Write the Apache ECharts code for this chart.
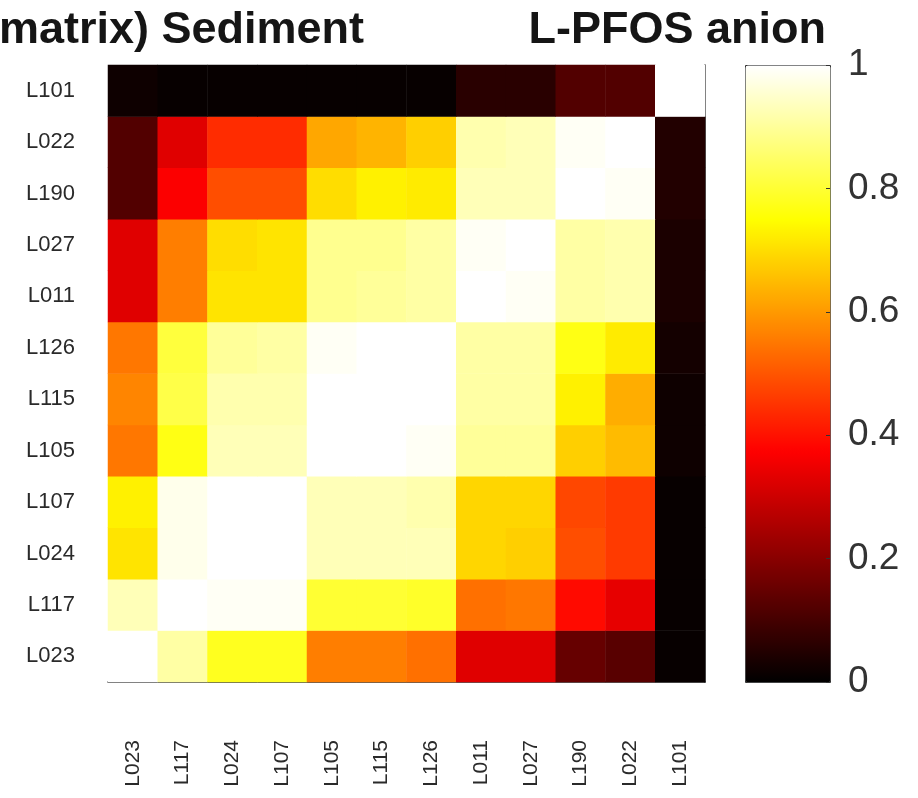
<!DOCTYPE html>
<html>
<head>
<meta charset="utf-8">
<script src="https://cdn.jsdelivr.net/npm/echarts@6/dist/echarts.min.js"></script>
<style>
html,body{margin:0;padding:0;background:#fff;}
#chart{width:918px;height:798px;}
</style>
</head>
<body>
<div id="chart"></div>
<script>
// Categories (x: left to right, y: bottom to top)
const categories = ['L023','L117','L024','L107','L105','L115','L126','L011','L027','L190','L022','L101'];

// Row values (one array per row label), in the order of `categories` columns
const rowL101 = [0.02, 0.01, 0.01, 0.01, 0.01, 0.01, 0.01, 0.06, 0.06, 0.12, 0.12, 1.00];
const rowL022 = [0.12, 0.33, 0.44, 0.44, 0.62, 0.64, 0.68, 0.92, 0.93, 0.99, 1.00, 0.05];
const rowL190 = [0.12, 0.37, 0.49, 0.49, 0.70, 0.73, 0.72, 0.93, 0.93, 1.00, 0.99, 0.05];
const rowL027 = [0.33, 0.56, 0.70, 0.71, 0.89, 0.89, 0.91, 0.99, 1.00, 0.91, 0.92, 0.04];
const rowL011 = [0.33, 0.56, 0.71, 0.71, 0.89, 0.90, 0.91, 1.00, 0.99, 0.91, 0.92, 0.04];
const rowL126 = [0.55, 0.81, 0.90, 0.91, 0.99, 1.00, 1.00, 0.91, 0.91, 0.77, 0.72, 0.03];
const rowL115 = [0.57, 0.82, 0.92, 0.92, 1.00, 1.00, 1.00, 0.91, 0.91, 0.73, 0.63, 0.02];
const rowL105 = [0.55, 0.77, 0.93, 0.93, 1.00, 1.00, 0.99, 0.90, 0.90, 0.68, 0.65, 0.02];
const rowL107 = [0.73, 0.98, 1.00, 1.00, 0.93, 0.93, 0.92, 0.69, 0.69, 0.48, 0.46, 0.01];
const rowL024 = [0.71, 0.98, 1.00, 1.00, 0.93, 0.93, 0.93, 0.69, 0.68, 0.49, 0.46, 0.01];
const rowL117 = [0.93, 1.00, 0.99, 0.99, 0.80, 0.80, 0.79, 0.54, 0.55, 0.39, 0.34, 0.01];
const rowL023 = [1.00, 0.91, 0.78, 0.78, 0.56, 0.56, 0.54, 0.33, 0.33, 0.15, 0.13, 0.01];

const rowsByLabel = {
  L101: rowL101, L022: rowL022, L190: rowL190, L027: rowL027, L011: rowL011, L126: rowL126,
  L115: rowL115, L105: rowL105, L107: rowL107, L024: rowL024, L117: rowL117, L023: rowL023
};

// Colorbar ticks
const colorbarMin = 0, colorbarMax = 1, colorbarStep = 0.2;

// Titles
const titleLeft = 'matrix) Sediment';
const titleRight = 'L-PFOS anion';

// "hot" colormap stops
const hotColors = ['#000000','#550000','#aa0000','#ff0000','#ff5500','#ffaa00','#ffff00','#ffff80','#ffffff'];

const data = [];
categories.forEach(function (rowLabel, yi) {
  const row = rowsByLabel[rowLabel];
  row.forEach(function (v, xi) { data.push([xi, yi, v]); });
});

const FONT = 'Liberation Sans, Arial, Helvetica, sans-serif';
const chart = echarts.init(document.getElementById('chart'), null, {renderer: 'canvas'});
chart.setOption({
  animation: false,
  backgroundColor: '#ffffff',
  title: [
    {text: titleLeft, left: -1, top: 8, padding: 0,
     textStyle: {fontSize: 45, fontWeight: 'bold', color: '#151515', fontFamily: FONT}},
    {text: titleRight, right: 92, top: 8, padding: 0,
     textStyle: {fontSize: 45, fontWeight: 'bold', color: '#151515', fontFamily: FONT}}
  ],
  grid: [
    {left: 108, top: 65, width: 597, height: 617, containLabel: false},
    {left: 745, top: 65, width: 85, height: 617, containLabel: false}
  ],
  xAxis: [
    {type: 'category', gridIndex: 0, data: categories,
     axisLine: {show: true, lineStyle: {color: '#222', width: 1.5}},
     axisTick: {show: false}, splitLine: {show: false}, splitArea: {show: false},
     axisLabel: {rotate: 90, margin: 58, fontSize: 21, color: '#2a2a2a', fontFamily: FONT}},
    {type: 'value', gridIndex: 1, show: false, min: 0, max: 1}
  ],
  yAxis: [
    {type: 'category', gridIndex: 0, data: categories,
     axisLine: {show: false}, axisTick: {show: false}, splitLine: {show: false},
     axisLabel: {margin: 33, fontSize: 22, color: '#2a2a2a', fontFamily: FONT}},
    {type: 'value', gridIndex: 0, position: 'right', min: 0, max: 1,
     axisLine: {show: true, onZero: false, lineStyle: {color: '#222', width: 1.5}},
     axisTick: {show: false}, axisLabel: {show: false}, splitLine: {show: false}},
    {type: 'value', gridIndex: 1, position: 'right', min: colorbarMin, max: colorbarMax, interval: colorbarStep,
     z: 10,
     axisLine: {show: false, onZero: false},
     axisTick: {show: true, inside: true, length: 4, lineStyle: {color: '#333'}},
     splitLine: {show: false},
     axisLabel: {margin: 18, fontSize: 37, color: '#333333', fontFamily: FONT}}
  ],
  visualMap: {
    type: 'continuous', min: colorbarMin, max: colorbarMax, calculable: false,
    orient: 'vertical', left: 745, top: 65, itemWidth: 85, itemHeight: 617,
    padding: 0, text: null, showLabel: false, seriesIndex: 0,
    borderColor: '#333', borderWidth: 1,
    inRange: {color: hotColors}
  },
  series: [{
    type: 'heatmap', xAxisIndex: 0, yAxisIndex: 0, data: data,
    itemStyle: {borderWidth: 0},
    emphasis: {disabled: true},
    progressive: 0
  }]
});
</script>
</body>
</html>
